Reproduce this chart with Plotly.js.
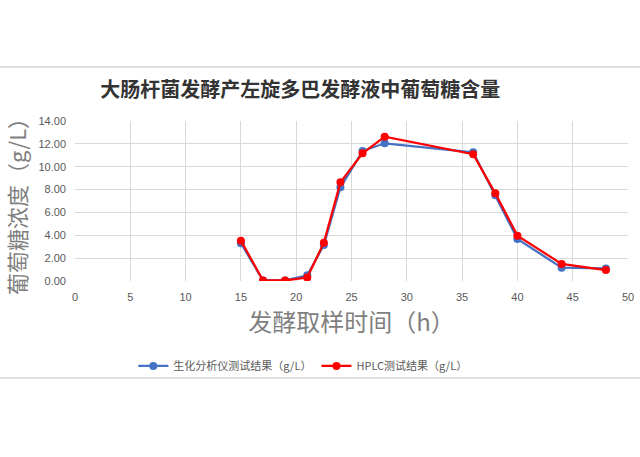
<!DOCTYPE html>
<html>
<head>
<meta charset="utf-8">
<script src="https://cdn.plot.ly/plotly-3.0.1.min.js"></script>
<style>
  html, body { margin: 0; padding: 0; background: #fff; }
  #chart { width: 640px; height: 457px; }
</style>
</head>
<body>
<div id="chart"></div>
<script>
// sampling times (h)
const hours = [15, 17, 19, 21, 22.5, 24, 26, 28, 36, 38, 40, 44, 48];
// glucose, biochemical analyzer (g/L)
const analyzer = [3.3, 0.05, 0.05, 0.5, 3.15, 8.2, 11.37, 12.05, 11.26, 7.5, 3.67, 1.17, 1.1];
// glucose, HPLC (g/L)
const hplc = [3.53, 0.05, 0.05, 0.3, 3.35, 8.63, 11.17, 12.63, 11.1, 7.67, 3.97, 1.49, 0.96];

const xTicks = [0, 5, 10, 15, 20, 25, 30, 35, 40, 45, 50];
const yTicks = [0, 2, 4, 6, 8, 10, 12, 14];

const cjk = '"Noto Sans CJK SC", "Noto Sans", sans-serif';
const num = '"Liberation Sans", Arial, sans-serif';

const traces = [
  {
    x: hours,
    y: analyzer,
    name: "生化分析仪测试结果（g/L）",
    type: "scatter",
    mode: "lines+markers",
    line: { color: "#4472C4", width: 2.25 },
    marker: { color: "#4472C4", size: 8 },
  },
  {
    x: hours,
    y: hplc,
    name: "HPLC测试结果（g/L）",
    type: "scatter",
    mode: "lines+markers",
    line: { color: "#FF0000", width: 2.25 },
    marker: { color: "#FF0000", size: 8 },
  },
];

const layout = {
  width: 640,
  height: 457,
  margin: { l: 75, r: 12, t: 121, b: 176 },
  paper_bgcolor: "#fff",
  plot_bgcolor: "#fff",
  showlegend: true,
  title: {
    text: "<b>大肠杆菌发酵产左旋多巴发酵液中葡萄糖含量</b>",
    font: { family: cjk, size: 20, color: "#333" },
    xref: "container",
    x: 0.469,
    xanchor: "center",
    yref: "container",
    y: 0.803,
    yanchor: "middle",
  },
  xaxis: {
    range: [0, 50],
    tickvals: xTicks,
    ticktext: xTicks.map(String),
    showgrid: true,
    gridcolor: "#D9D9D9",
    zeroline: false,
    showline: false,
    ticks: "",
    ticklabelstandoff: 8,
    tickfont: { family: num, size: 11, color: "#595959" },
    title: {
      text: "发酵取样时间（h）",
      font: { family: cjk, size: 24, color: "#7F7F7F" },
      standoff: 6,
    },
    automargin: false,
  },
  yaxis: {
    range: [0, 14],
    tickvals: yTicks,
    ticktext: yTicks.map((v) => v.toFixed(2)),
    showgrid: true,
    gridcolor: "#D9D9D9",
    zeroline: false,
    showline: false,
    ticks: "",
    ticklabelstandoff: 8,
    tickfont: { family: num, size: 11, color: "#595959" },
    title: {
      text: "葡萄糖浓度（g/L）",
      font: { family: cjk, size: 22, color: "#7F7F7F" },
      standoff: 7,
    },
    automargin: false,
  },
  legend: {
    orientation: "h",
    x: 0.412,
    xanchor: "center",
    y: -0.531,
    yanchor: "middle",
    bgcolor: "rgba(0,0,0,0)",
    font: { family: cjk, size: 11, color: "#595959" },
    itemwidth: 30,
  },
  shapes: [
    {
      type: "line", xref: "paper", yref: "paper",
      x0: -0.14, x1: 1.03, y0: 1.3375, y1: 1.3375,
      line: { color: "#E0E0E0", width: 2 },
    },
    {
      type: "line", xref: "paper", yref: "paper",
      x0: -0.14, x1: 1.03, y0: -0.606, y1: -0.606,
      line: { color: "#E0E0E0", width: 2 },
    },
  ],
};

Plotly.newPlot("chart", traces, layout, { displayModeBar: false, staticPlot: true });
</script>
</body>
</html>
